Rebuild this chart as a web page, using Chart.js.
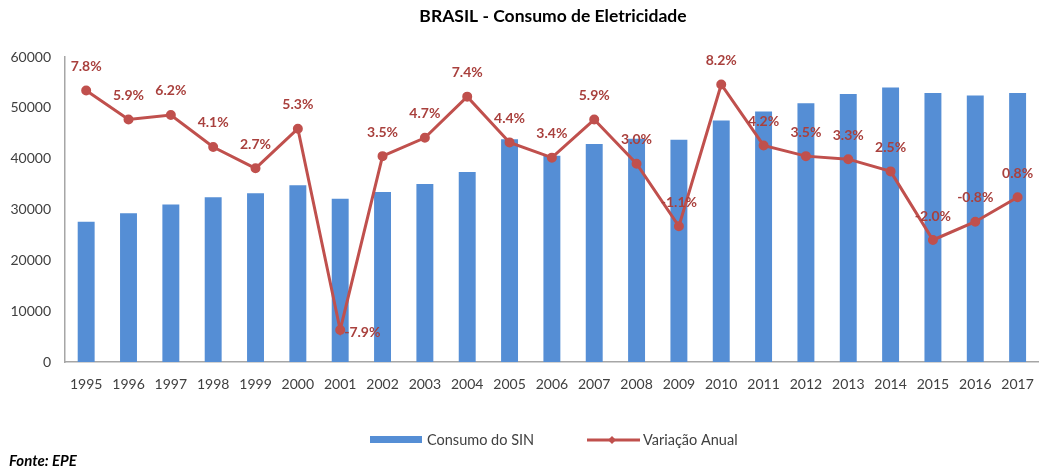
<!DOCTYPE html>
<html><head><meta charset="utf-8">
<script src="https://cdn.jsdelivr.net/npm/chart.js@4.4.1/dist/chart.umd.min.js"></script>
<style>
html,body{margin:0;padding:0;background:#fff;}
#wrap{position:relative;width:1048px;height:473px;}
#fonte{position:absolute;left:9px;top:451px;line-height:20px;font:italic bold 15px Lato, sans-serif;color:#000;}
</style>
</head><body>
<div id="wrap"><canvas id="c" width="1048" height="473"></canvas><div id="fonte">Fonte: EPE</div></div>
<script>
const TITLE = 'BRASIL - Consumo de Eletricidade';
const years = ['1995','1996','1997','1998','1999','2000','2001','2002','2003','2004','2005','2006','2007','2008','2009','2010','2011','2012','2013','2014','2015','2016','2017'];
const consumo = [27600,29250,31000,32400,33200,34750,32100,33450,35000,37400,43800,40550,42900,43900,43700,47500,49300,50900,52700,54000,52900,52450,52900];
const variacao = [7.8,5.9,6.2,4.1,2.7,5.3,-7.9,3.5,4.7,7.4,4.4,3.4,5.9,3.0,-1.1,8.2,4.2,3.5,3.3,2.5,-2.0,-0.8,0.8];
const legendLabels = ['Consumo do SIN','Variação Anual'];
const yMin = 0, yMax = 60000, yStep = 10000;
const y2Min = -10, y2Max = 10;

const BAR = '#558ED5', LINE = '#C0504D', LABEL = '#A9403D', TXT = '#404040';
const FONT = 'Lato, "Open Sans", sans-serif';

const extras = {
  id: 'extras',
  afterDatasetsDraw(chart) {
    const ctx = chart.ctx;
    const meta = chart.getDatasetMeta(0);
    ctx.save();
    ctx.font = 'bold 14px ' + FONT;
    ctx.fillStyle = LABEL;
    meta.data.forEach((pt, i) => {
      const v = variacao[i];
      const txt = v.toFixed(1) + '%';
      if (v < -5) {
        ctx.textAlign = 'left'; ctx.textBaseline = 'middle';
        ctx.fillText(txt, pt.x + 4, pt.y + 3);
      } else {
        ctx.textAlign = 'center'; ctx.textBaseline = 'middle';
        ctx.fillText(txt, pt.x, pt.y - 24);
      }
    });
    ctx.restore();
  },
  afterDraw(chart) {
    const ctx = chart.ctx;
    ctx.save();
    // title
    ctx.font = 'bold 17.5px ' + FONT;
    ctx.fillStyle = '#000';
    ctx.textAlign = 'center'; ctx.textBaseline = 'middle';
    ctx.fillText(TITLE, 553, 16);
    // legend
    ctx.font = '14.5px ' + FONT;
    ctx.textAlign = 'left';
    ctx.fillStyle = BAR;
    ctx.fillRect(370, 436, 52, 7);
    ctx.fillStyle = TXT;
    ctx.fillText(legendLabels[0], 427, 440);
    ctx.strokeStyle = LINE; ctx.lineWidth = 3;
    ctx.beginPath(); ctx.moveTo(587, 440); ctx.lineTo(640, 440); ctx.stroke();
    ctx.fillStyle = LINE;
    ctx.beginPath(); ctx.moveTo(612, 436); ctx.lineTo(616, 440); ctx.lineTo(612, 444); ctx.lineTo(608, 440); ctx.closePath(); ctx.fill();
    ctx.fillStyle = TXT;
    ctx.fillText(legendLabels[1], 643, 440);
    ctx.restore();
  }
};

new Chart(document.getElementById('c'), {
  data: {
    labels: years,
    datasets: [
      {
        type: 'line', label: legendLabels[1], data: variacao, yAxisID: 'y1', order: 0,
        borderColor: LINE, backgroundColor: LINE, borderWidth: 3,
        pointRadius: 3.5, pointStyle: 'circle', pointBackgroundColor: LINE, pointBorderColor: LINE,
        tension: 0
      },
      {
        type: 'bar', label: legendLabels[0], data: consumo, yAxisID: 'y', order: 1,
        backgroundColor: BAR, barPercentage: 0.4, categoryPercentage: 1.0
      }
    ]
  },
  options: {
    responsive: false, animation: false,
    layout: { padding: { top: 57, right: 2, bottom: 0, left: 0 } },
    plugins: { legend: { display: false }, title: { display: false }, tooltip: { enabled: false } },
    scales: {
      x: {
        grid: { display: false, drawTicks: false },
        border: { display: true, color: '#A6A6A6', width: 1.5 },
        ticks: { color: TXT, font: { family: FONT, size: 14 }, padding: 14, maxRotation: 0, autoSkip: false },
        afterFit(s) { s.height = 111; }
      },
      y: {
        min: yMin, max: yMax,
        grid: { display: false, drawTicks: false },
        border: { display: true, color: '#A6A6A6', width: 1.5 },
        ticks: { stepSize: yStep, color: TXT, font: { family: FONT, size: 14 }, padding: 14,
                 callback: (v) => String(v) },
        afterFit(s) { s.width = 65; }
      },
      y1: { display: false, min: y2Min, max: y2Max }
    }
  },
  plugins: [extras]
});
</script>
</body></html>
